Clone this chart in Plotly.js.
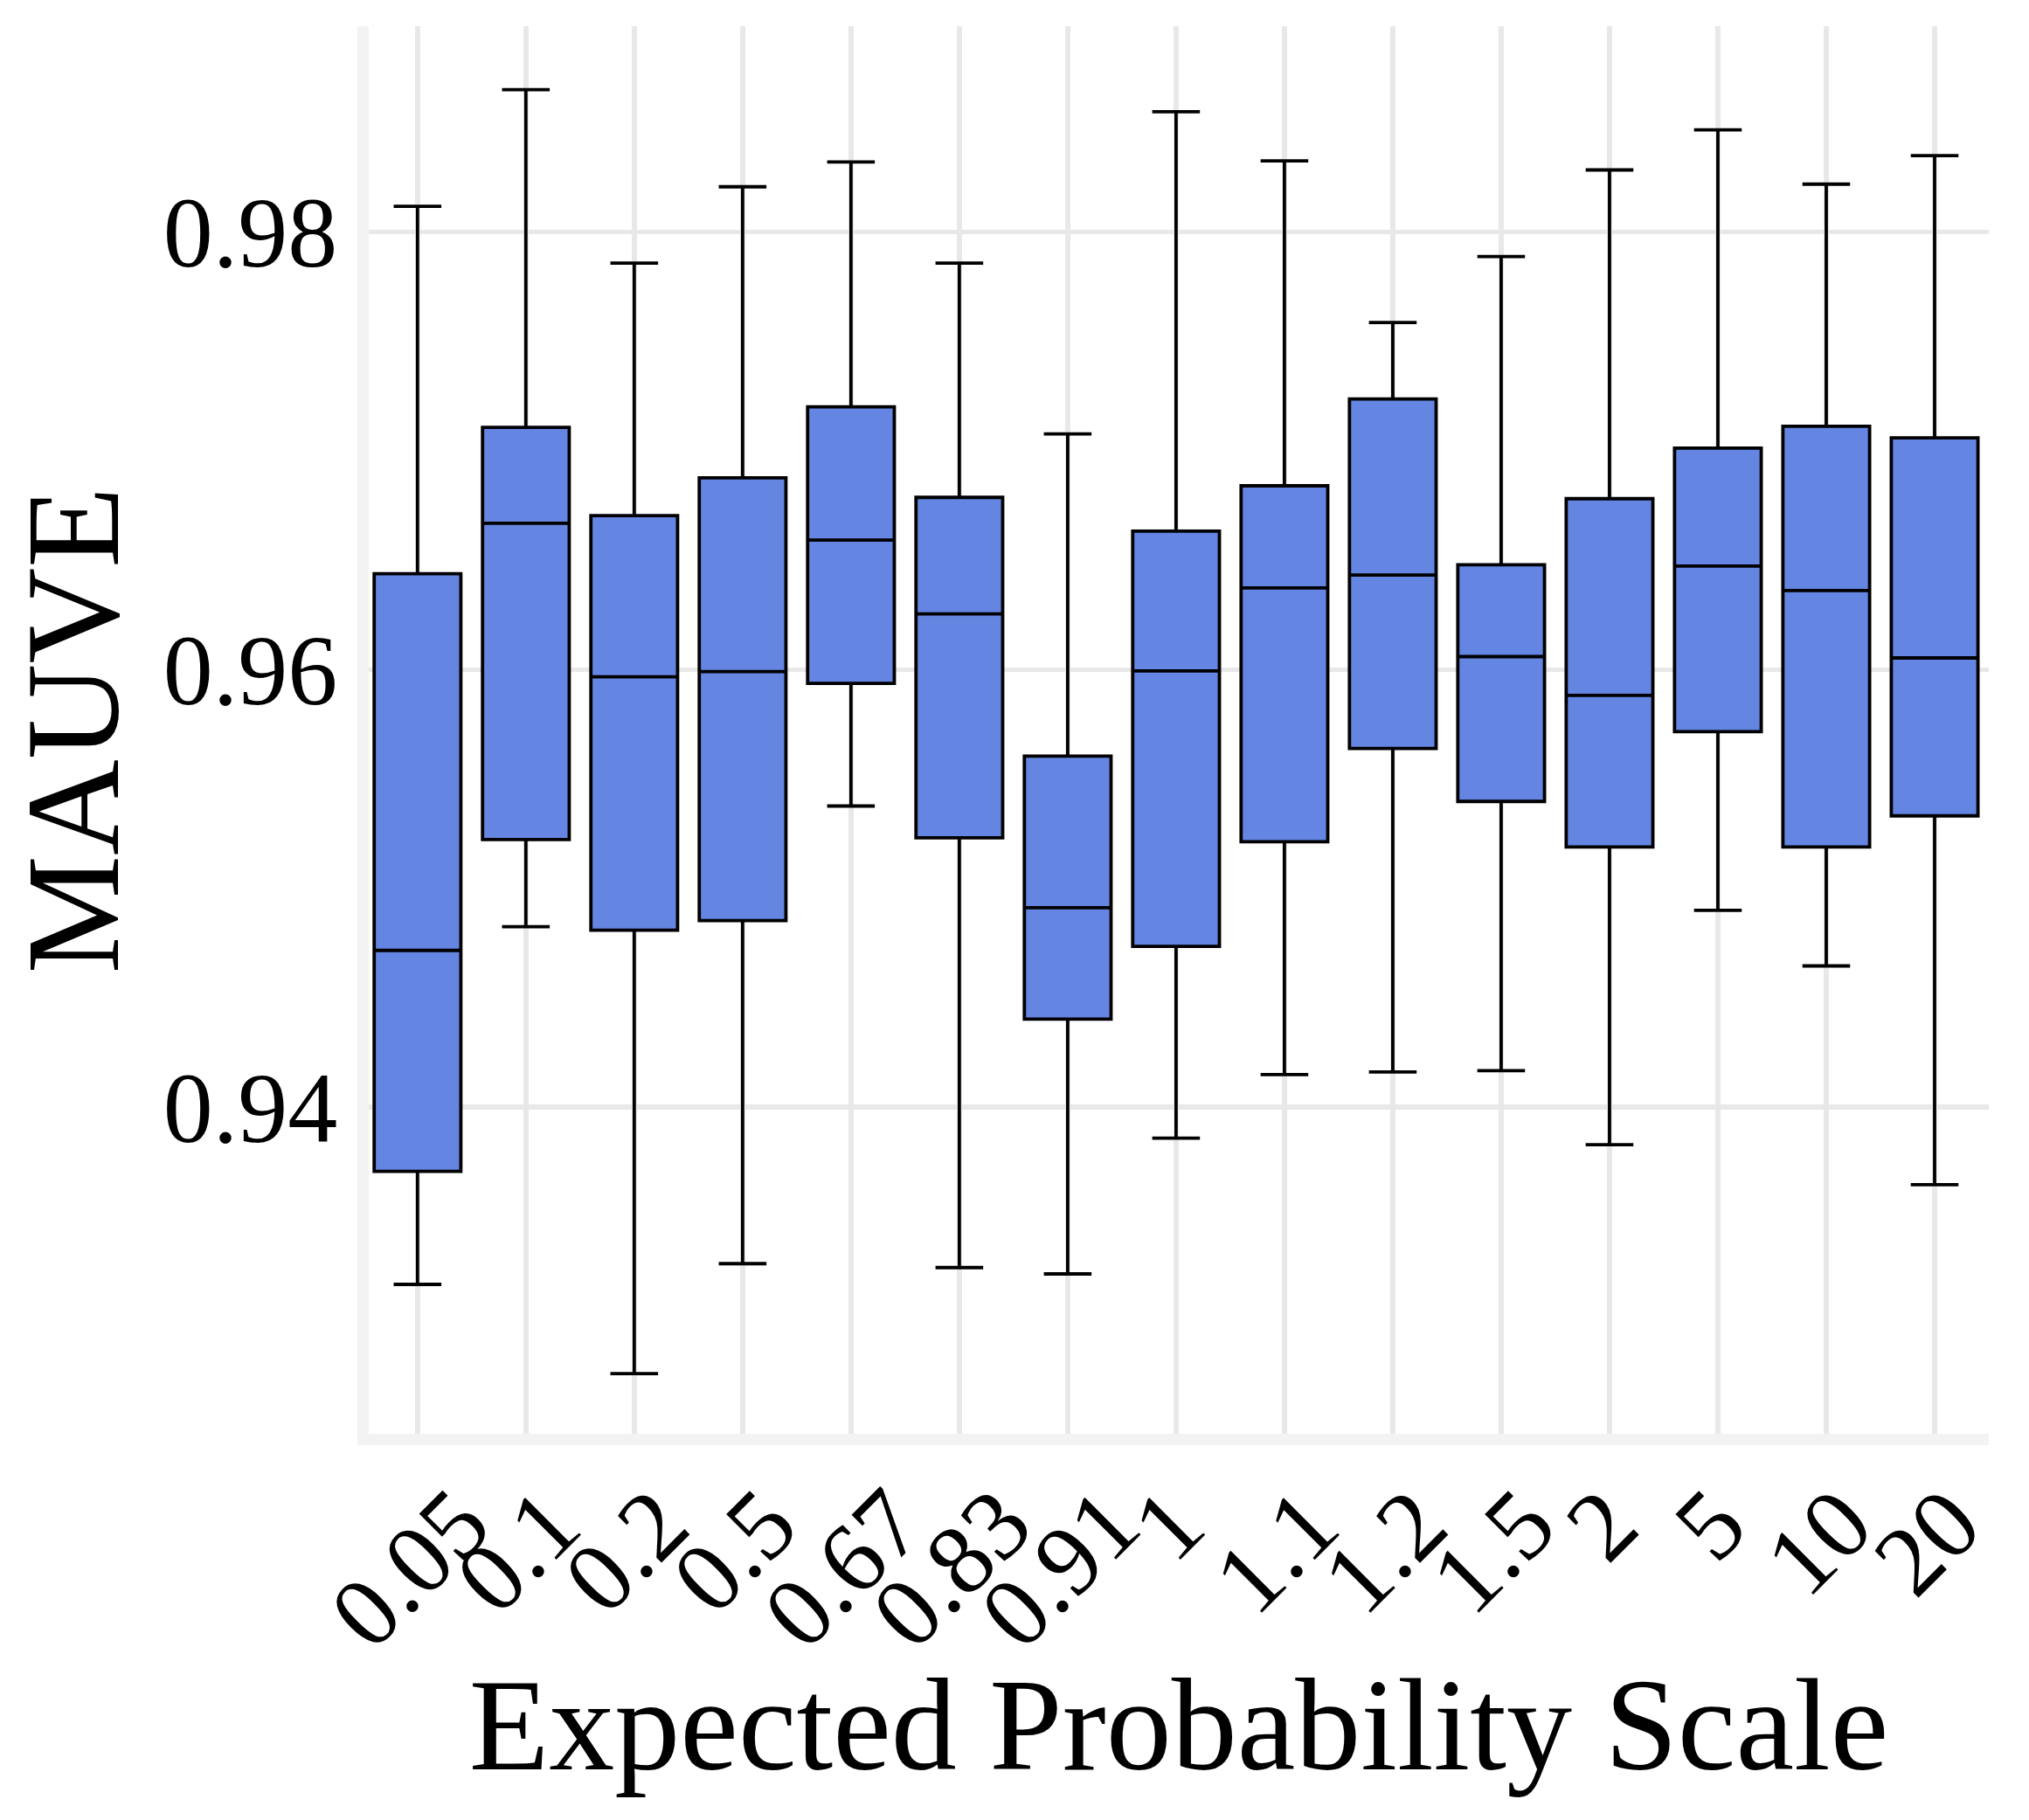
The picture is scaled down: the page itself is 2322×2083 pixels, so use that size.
<!DOCTYPE html>
<html>
<head>
<meta charset="utf-8">
<script src="https://cdn.plot.ly/plotly-3.0.1.min.js"></script>
<style>html,body{margin:0;padding:0;background:#fff;}</style>
</head>
<body>
<div id="chart" style="width:2322px;height:2083px;"></div>
<script>
// Expected probability scale categories
const categories = ['0.05','0.1','0.2','0.5','0.67','0.83','0.91','1','1.1','1.2','1.5','2','5','10','20'];
// MAUVE box statistics
const upperWhisker = [0.98118,0.98651,0.97858,0.98207,0.98320,0.97858,0.97077,0.98550,0.98325,0.97586,0.97888,0.98284,0.98467,0.98219,0.98349];
const q3Values     = [0.96438,0.97107,0.96704,0.96876,0.97201,0.96787,0.95604,0.96633,0.96840,0.97237,0.96479,0.96781,0.97012,0.97112,0.97059];
const medianValues = [0.94716,0.96669,0.95967,0.95991,0.96592,0.96254,0.94911,0.95994,0.96373,0.96432,0.96059,0.95882,0.96473,0.96361,0.96053];
const q1Values     = [0.93706,0.95223,0.94808,0.94852,0.95937,0.95231,0.94402,0.94734,0.95213,0.95639,0.95397,0.95189,0.95716,0.95189,0.95331];
const lowerWhisker = [0.93189,0.94824,0.92781,0.93284,0.95376,0.93266,0.93237,0.93858,0.94148,0.94160,0.94166,0.93828,0.94899,0.94645,0.93645];
const yTickValues = [0.94, 0.96, 0.98];
const yTickLabels = ['0.94', '0.96', '0.98'];

const FONT = 'Liberation Serif, Times New Roman, serif';

const trace = {
  type: 'box',
  x: categories,
  q1: q1Values,
  median: medianValues,
  q3: q3Values,
  lowerfence: lowerWhisker,
  upperfence: upperWhisker,
  boxpoints: false,
  fillcolor: '#6485E1',
  line: {color: '#000000', width: 3.8},
  whiskerwidth: 0.55,
  showlegend: false,
  hoverinfo: 'y'
};

// category tick labels, centred on each category position of the x axis
const tickAnnotations = categories.map((c, i) => ({
  x: i, xref: 'x',
  y: -0.022, yref: 'paper',
  text: c,
  textangle: -45,
  showarrow: false,
  xanchor: 'center', yanchor: 'top',
  xshift: -9,
  font: {family: FONT, size: 114, color: '#000'}
}));

const layout = {
  width: 2322, height: 2083,
  margin: {l: 422, r: 46, t: 30, b: 442, pad: 0},
  paper_bgcolor: '#ffffff',
  plot_bgcolor: '#ffffff',
  font: {family: FONT, color: '#000'},
  boxmode: 'overlay',
  boxgap: 0.2,
  boxgroupgap: 0,
  xaxis: {
    type: 'category',
    range: [-0.45, 14.5],
    showgrid: true, gridcolor: '#e8e8e8', gridwidth: 5.5,
    showline: true, linecolor: '#f3f3f3', linewidth: 13,
    zeroline: false, ticks: '', showticklabels: false,
    title: {text: 'Expected Probability Scale', font: {family: FONT, size: 150, color: '#000'}, standoff: 272}
  },
  yaxis: {
    range: [0.92506, 0.98941],
    tickvals: yTickValues, ticktext: yTickLabels,
    showgrid: true, gridcolor: '#e8e8e8', gridwidth: 5.5,
    showline: true, linecolor: '#f3f3f3', linewidth: 13,
    zeroline: false, ticks: '',
    tickfont: {family: FONT, size: 114, color: '#000'},
    title: {text: 'MAUVE', font: {family: FONT, size: 152, color: '#000'}, standoff: 50}
  },
  annotations: tickAnnotations
};

Plotly.newPlot('chart', [trace], layout, {displayModeBar: false, staticPlot: true});
</script>
</body>
</html>
